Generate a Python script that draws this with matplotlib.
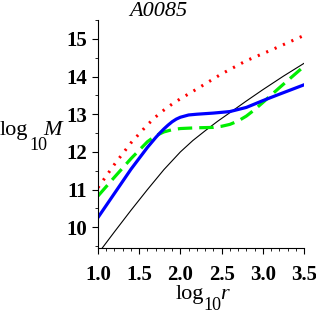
import matplotlib
matplotlib.use("Agg")
import matplotlib.pyplot as plt
from matplotlib.ticker import MultipleLocator

plt.rcParams['font.family'] = ['Liberation Serif', 'DejaVu Serif']

# curves (log10 r, log10 M)
x_blue = [1.0, 1.2, 1.4, 1.6, 1.7, 1.75, 1.8, 1.85, 1.9, 1.95, 2.0, 2.1, 2.2, 2.4, 2.6, 2.8, 3.0, 3.2, 3.5]
y_blue = [10.26, 10.90, 11.54, 12.12, 12.38, 12.50, 12.61, 12.71, 12.80, 12.87, 12.92, 12.98, 13.00, 13.03, 13.07, 13.18, 13.36, 13.53, 13.78]

x_green = [1.0, 1.2, 1.4, 1.6, 1.7, 1.8, 1.9, 2.0, 2.2, 2.4, 2.5, 2.6, 2.7, 2.8, 2.9, 3.0, 3.2, 3.5]
y_green = [10.83, 11.33, 11.82, 12.27, 12.43, 12.53, 12.59, 12.62, 12.64, 12.65, 12.68, 12.73, 12.82, 12.95, 13.12, 13.31, 13.70, 14.27]

x_red = [1.0, 1.2, 1.4, 1.6, 1.7, 1.8, 1.9, 2.0, 2.2, 2.5, 2.8, 3.1, 3.5]
y_red = [11.05, 11.67, 12.24, 12.72, 12.93, 13.11, 13.27, 13.41, 13.67, 14.07, 14.42, 14.70, 15.09]

x_black = [1.0, 1.2, 1.4, 1.6, 1.8, 2.0, 2.15, 2.3, 2.45, 2.6, 2.8, 3.0, 3.25, 3.5]
y_black = [9.30, 9.88, 10.45, 11.00, 11.53, 12.00, 12.30, 12.56, 12.81, 13.04, 13.35, 13.65, 14.01, 14.35]

x_ticks = [1.0, 1.5, 2.0, 2.5, 3.0, 3.5]
y_ticks = [10, 11, 12, 13, 14, 15]

W, H = 316, 314
fig = plt.figure(figsize=(W / 100, H / 100), dpi=100)
ax = fig.add_axes([98 / W, 1 - 248 / H, 206 / W, 228 / H])

ax.plot(x_black, y_black, color='black', lw=0.8)
ax.plot(x_red, y_red, color='#ff0000', lw=2.2, linestyle=(0, (0.7, 2.3)))
ax.plot(x_green, y_green, color='#00ee00', lw=2.3, linestyle=(0, (4.5, 2.2)))
ax.plot(x_blue, y_blue, color='#0000ff', lw=2.3)

ax.set_xlim(1.0, 3.5)
ax.set_ylim(9.45, 15.5)
ax.set_xticks(x_ticks)
ax.set_yticks(y_ticks)
ax.set_xticklabels(['%.1f' % v for v in x_ticks], fontweight='bold', fontsize=15)
ax.set_yticklabels([str(v) for v in y_ticks], fontweight='bold', fontsize=15)
ax.xaxis.set_minor_locator(MultipleLocator(0.1))
ax.yaxis.set_minor_locator(MultipleLocator(0.5))
ax.tick_params(which='major', direction='out', length=4, width=0.8)
ax.tick_params(which='minor', direction='out', length=2, width=0.6)
ax.tick_params(axis='x', which='major', pad=8)
ax.tick_params(axis='y', which='major', pad=4)

for side in ['top', 'right']:
    ax.spines[side].set_visible(False)
for side in ['left', 'bottom']:
    ax.spines[side].set_linewidth(0.8)


def put(px, py, s, **kw):
    # place text by pixel position (left, baseline)
    fig.text(px / W, 1 - py / H, s, ha='left', va='baseline', **kw)


# title
put(129, 16, 'A0085', fontsize=16, fontstyle='italic')

# y label: log_10 M
put(0, 135, 'log', fontsize=16)
put(29, 150, '10', fontsize=13)
put(43, 135, 'M', fontsize=16, fontstyle='italic')

# x label: log_10 r
put(176, 299, 'log', fontsize=16)
put(203, 310, '10', fontsize=13)
put(220, 299, 'r', fontsize=16, fontstyle='italic')

fig.savefig('out.png', dpi=100)
